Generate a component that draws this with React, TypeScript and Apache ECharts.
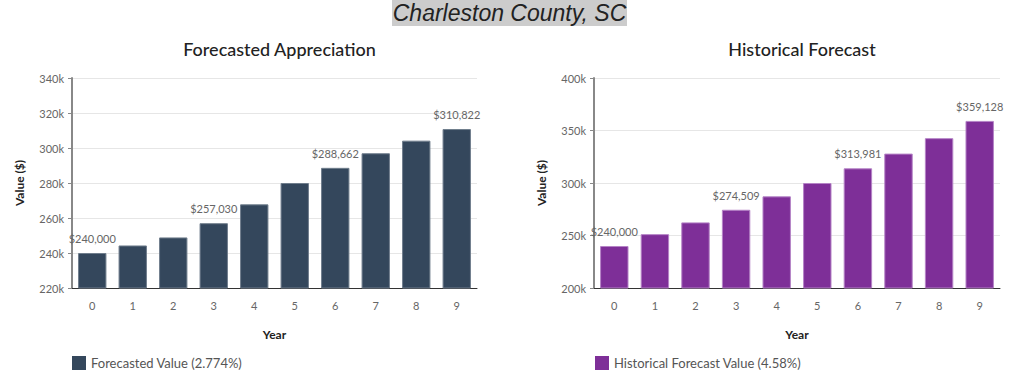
import React, { useEffect, useRef } from "react";
import * as echarts from "echarts";

const years = ["0", "1", "2", "3", "4", "5", "6", "7", "8", "9"];
const forecastValues = [240000, 244300, 248900, 257030, 267800, 280000, 288662, 297000, 304200, 310822];
const historicalValues = [240000, 251300, 262500, 274509, 287300, 300000, 313981, 328000, 342700, 359128];
const labeledIdx = [0, 3, 6, 9];
const forecastName = "Forecasted Value (2.774%)";
const historicalName = "Historical Forecast Value (4.58%)";

const FONT = "Lato, 'Noto Sans', sans-serif";

function fmtMoney(v: number) {
  return "$" + v.toLocaleString("en-US");
}

function seriesData(vals: number[]) {
  return vals.map((v, i) => ({
    value: v,
    label: { show: labeledIdx.includes(i) },
  }));
}

export default function App() {
  const ref = useRef<HTMLDivElement>(null);
  useEffect(() => {
    if (!ref.current) return;
    const chart = echarts.init(ref.current, null, { renderer: "svg" });
    const axisCommonX = (gi: number) => ({
      type: "category",
      gridIndex: gi,
      data: years,
      name: "Year",
      nameLocation: "middle",
      nameGap: 40,
      nameTextStyle: { fontFamily: FONT, fontWeight: "bold", fontSize: 12, color: "#222" },
      axisLine: { lineStyle: { color: "#333", width: 1 } },
      axisTick: { alignWithLabel: true, length: 5, lineStyle: { color: "#555" } },
      axisLabel: { fontFamily: FONT, fontSize: 11, color: "#666", margin: 12 },
    });
    const axisCommonY = (gi: number, min: number, max: number, interval: number) => ({
      type: "value",
      gridIndex: gi,
      min,
      max,
      interval,
      name: "Value ($)",
      nameLocation: "middle",
      nameGap: 47,
      nameRotate: 90,
      nameTextStyle: { fontFamily: FONT, fontWeight: "bold", fontSize: 12, color: "#222" },
      axisLine: { show: true, lineStyle: { color: "#888", width: 2 } },
      axisTick: { show: true, length: 4, lineStyle: { color: "#888" } },
      axisLabel: {
        fontFamily: FONT,
        fontSize: 11,
        color: "#666",
        margin: 8,
        formatter: (v: number) => v / 1000 + "k",
      },
      splitLine: { lineStyle: { color: "#e6e6e6" } },
    });
    const labelCfg = {
      position: "top",
      distance: 9,
      fontFamily: FONT,
      fontSize: 11,
      color: "#666",
      formatter: (p: any) => fmtMoney(p.value),
    };
    chart.setOption({
      animation: false,
      backgroundColor: "#fff",
      graphic: [
        { type: "rect", shape: { x: 392, y: 0, width: 235, height: 26 }, style: { fill: "#cccccc" } },
        {
          type: "text",
          x: 509.5,
          y: 13,
          style: {
            text: "Charleston County, SC",
            fontFamily: "'Liberation Sans', Arial, sans-serif",
            fontStyle: "italic",
            fontSize: 23,
            fill: "#222",
            align: "center",
            verticalAlign: "middle",
          },
        },
      ],
      title: [
        {
          text: "Forecasted Appreciation",
          left: 274.5,
          top: 35,
          textAlign: "center",
          textStyle: { fontFamily: FONT, fontSize: 18, fontWeight: 500, color: "#222" },
        },
        {
          text: "Historical Forecast",
          left: 797,
          top: 35,
          textAlign: "center",
          textStyle: { fontFamily: FONT, fontSize: 18, fontWeight: 500, color: "#222" },
        },
      ],
      legend: [
        {
          data: [forecastName],
          left: 72,
          top: 356,
          padding: 0,
          icon: "rect",
          itemWidth: 14,
          itemHeight: 14,
          itemGap: 5,
          itemStyle: { borderWidth: 0 },
          textStyle: { fontFamily: FONT, fontSize: 13, color: "#555" },
        },
        {
          data: [historicalName],
          left: 595,
          top: 356,
          padding: 0,
          icon: "rect",
          itemWidth: 14,
          itemHeight: 14,
          itemStyle: { borderWidth: 0 },
          textStyle: { fontFamily: FONT, fontSize: 13, color: "#555" },
        },
      ],
      grid: [
        { left: 72, top: 78, width: 405, height: 210 },
        { left: 594, top: 78, width: 406, height: 210 },
      ],
      xAxis: [axisCommonX(0), axisCommonX(1)],
      yAxis: [axisCommonY(0, 220000, 340000, 20000), axisCommonY(1, 200000, 400000, 50000)],
      series: [
        {
          type: "bar",
          name: forecastName,
          xAxisIndex: 0,
          yAxisIndex: 0,
          barWidth: "70%",
          data: seriesData(forecastValues),
          itemStyle: { color: "#34475c", borderColor: "#6f7d8c", borderWidth: 1 },
          label: labelCfg,
        },
        {
          type: "bar",
          name: historicalName,
          xAxisIndex: 1,
          yAxisIndex: 1,
          barWidth: "70%",
          data: seriesData(historicalValues),
          itemStyle: { color: "#7e2f98", borderColor: "#b583c6", borderWidth: 1 },
          label: labelCfg,
        },
      ],
    });
    return () => chart.dispose();
  }, []);
  return (
    <div
      ref={ref}
      style={{ position: "absolute", left: 0, top: 0, width: 1023, height: 389 }}
    />
  );
}
